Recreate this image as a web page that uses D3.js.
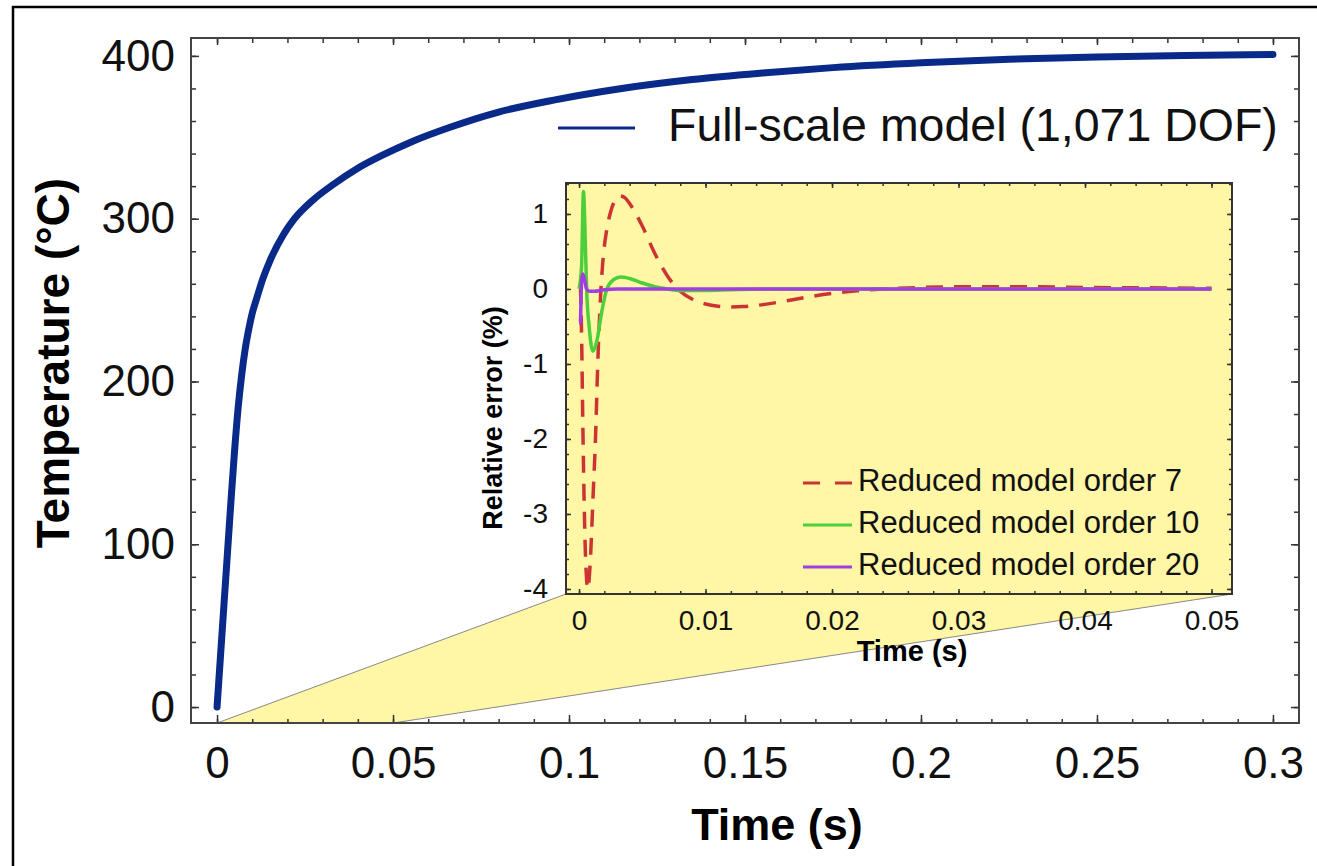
<!DOCTYPE html>
<html>
<head>
<meta charset="utf-8">
<script src="https://cdn.jsdelivr.net/npm/d3@7"></script>
<style>
  body { margin: 0; background: #fff; }
  svg { display: block; font-family: "Liberation Sans", Arial, Helvetica, sans-serif; }
</style>
</head>
<body>
<script>
// Curva del modelo completo (temperatura vs tiempo)
const fullTime = [0, 0.001, 0.002, 0.003, 0.004, 0.005, 0.006, 0.007, 0.008, 0.009, 0.01, 0.0114, 0.013, 0.015, 0.0188, 0.022, 0.027, 0.033, 0.04, 0.047, 0.055, 0.066, 0.08, 0.096, 0.115, 0.135, 0.155, 0.175, 0.2, 0.225, 0.25, 0.275, 0.3];
const fullTemp = [0, 32, 64, 96, 128, 158, 184, 204, 220, 232, 242, 252, 263, 274, 290, 300, 311, 321, 331, 339, 347, 356, 365.5, 373, 380, 385.5, 389.5, 392.8, 395.8, 398, 399.4, 400.3, 400.9];

// Error relativo de los modelos reducidos (%)
const err7Time = [0, 0.0001, 0.0002, 0.0003, 0.0004, 0.0005, 0.0007, 0.0009, 0.0011, 0.0013, 0.0015, 0.0017, 0.0019, 0.0022, 0.0025, 0.0028, 0.0032, 0.0036, 0.004, 0.0045, 0.005, 0.006, 0.007, 0.008, 0.009, 0.01, 0.011, 0.012, 0.013, 0.014, 0.016, 0.018, 0.02, 0.022, 0.024, 0.027, 0.03, 0.035, 0.04, 0.045, 0.05];
const err7Vals = [0, 0, -0.6, -1.8, -2.8, -3.5, -4.0, -3.6, -2.8, -2.0, -0.9, -0.1, 0.4, 0.8, 1.03, 1.17, 1.24, 1.22, 1.14, 1.0, 0.84, 0.47, 0.17, -0.03, -0.14, -0.2, -0.23, -0.24, -0.235, -0.22, -0.17, -0.11, -0.06, -0.025, 0, 0.02, 0.03, 0.03, 0.02, 0.015, 0.01];

const err10Time = [0, 0.0002, 0.00035, 0.0005, 0.0006, 0.0008, 0.0011, 0.0014, 0.0018, 0.0022, 0.0027, 0.0033, 0.004, 0.005, 0.006, 0.007, 0.008, 0.01, 0.012, 0.015, 0.05];
const err10Vals = [0, 0.3, 1.3, 0.6, 0, -0.5, -0.83, -0.7, -0.3, 0, 0.12, 0.16, 0.14, 0.08, 0.03, 0, -0.02, -0.02, -0.01, 0, 0];

const err20Time = [0, 0.0001, 0.0002, 0.0003, 0.0004, 0.0006, 0.0008, 0.0012, 0.002, 0.003, 0.05];
const err20Vals = [-0.45, -0.45, 0.1, 0.2, 0.15, 0, -0.03, -0.03, -0.01, 0, 0];

// Ticks
const mainXTicks = [0, 0.05, 0.1, 0.15, 0.2, 0.25, 0.3];
const mainYTicks = [0, 100, 200, 300, 400];
const insetXTicks = [0, 0.01, 0.02, 0.03, 0.04, 0.05];
const insetYTicks = [-4, -3, -2, -1, 0, 1];

const legendMain = "Full-scale model (1,071 DOF)";
const legendInset = ["Reduced model order 7", "Reduced model order 10", "Reduced model order 20"];

const width = 1317;
const height = 866;
const yellow = "#fff6a6";
const font = '"Liberation Sans", Arial, Helvetica, sans-serif';

const svg = d3.select("body").append("svg")
  .attr("width", width)
  .attr("height", height);

// marco exterior
svg.append("rect")
  .attr("x", 13).attr("y", 7)
  .attr("width", width + 20).attr("height", height + 20)
  .attr("fill", "white")
  .attr("stroke", "black")
  .attr("stroke-width", 2.5);

// ---------- grafico principal ----------
const M = {left: 191, right: 1299, top: 38, bottom: 723};
const x = d3.scaleLinear().domain([-0.0074, 0.3074]).range([M.left, M.right]);
const y = d3.scaleLinear().domain([-9.8, 411]).range([M.bottom, M.top]);

const fmt = d => String(+d.toFixed(3));

function ticksAxis(g, axis) {
  g.call(axis).call(s => s.select(".domain").remove());
  g.selectAll(".tick line").attr("stroke", "#333").attr("stroke-width", 1.5);
}

const mainMinorX = d3.range(0, 0.3001, 0.01);
const mainMinorY = d3.range(0, 401, 20);

// zona del zoom (amarilla)
const zoomPts = [
  [x(0), M.bottom],
  [566, 594],
  [1232, 594],
  [x(0.05), M.bottom]
];
svg.append("polygon")
  .attr("points", zoomPts.map(p => p.join(",")).join(" "))
  .attr("fill", yellow);
svg.append("line")
  .attr("x1", zoomPts[0][0]).attr("y1", zoomPts[0][1])
  .attr("x2", zoomPts[1][0]).attr("y2", zoomPts[1][1])
  .attr("stroke", "#888").attr("stroke-width", 1);
svg.append("line")
  .attr("x1", zoomPts[3][0]).attr("y1", zoomPts[3][1])
  .attr("x2", zoomPts[2][0]).attr("y2", zoomPts[2][1])
  .attr("stroke", "#888").attr("stroke-width", 1);

// ejes principales (ticks hacia adentro)
svg.append("g").attr("transform", `translate(0,${M.bottom})`)
  .call(g => ticksAxis(g, d3.axisBottom(x).tickValues(mainMinorX).tickFormat("").tickSize(-4)));
svg.append("g").attr("transform", `translate(0,${M.top})`)
  .call(g => ticksAxis(g, d3.axisTop(x).tickValues(mainMinorX).tickFormat("").tickSize(-5)));
svg.append("g").attr("transform", `translate(0,${M.top})`)
  .call(g => ticksAxis(g, d3.axisTop(x).tickValues(mainXTicks).tickFormat("").tickSize(-7)));
svg.append("g").attr("transform", `translate(${M.left},0)`)
  .call(g => ticksAxis(g, d3.axisLeft(y).tickValues(mainMinorY).tickFormat("").tickSize(-5)));
svg.append("g").attr("transform", `translate(${M.right},0)`)
  .call(g => ticksAxis(g, d3.axisRight(y).tickValues(mainMinorY).tickFormat("").tickSize(-5)));
svg.append("g").attr("transform", `translate(${M.right},0)`)
  .call(g => ticksAxis(g, d3.axisRight(y).tickValues(mainYTicks).tickFormat("").tickSize(-8)));

const xAxis = svg.append("g").attr("transform", `translate(0,${M.bottom})`)
  .call(g => ticksAxis(g, d3.axisBottom(x).tickValues(mainXTicks).tickFormat(fmt).tickSize(-8).tickPadding(24)));
const yAxis = svg.append("g").attr("transform", `translate(${M.left},0)`)
  .call(g => ticksAxis(g, d3.axisLeft(y).tickValues(mainYTicks).tickFormat(fmt).tickSize(-8).tickPadding(16)));
[xAxis, yAxis].forEach(a => a.selectAll("text")
  .attr("fill", "#111")
  .style("font-size", "44px")
  .style("font-family", font));

// marco del grafico
svg.append("rect")
  .attr("x", M.left).attr("y", M.top)
  .attr("width", M.right - M.left).attr("height", M.bottom - M.top)
  .attr("fill", "none")
  .attr("stroke", "#444")
  .attr("stroke-width", 2);

// curva completa
const fullData = fullTime.map((t, i) => ({t, v: fullTemp[i]}));
svg.append("path")
  .datum(fullData)
  .attr("fill", "none")
  .attr("stroke", "#0a2a8a")
  .attr("stroke-width", 7)
  .attr("stroke-linecap", "round")
  .attr("d", d3.line().x(d => x(d.t)).y(d => y(d.v)).curve(d3.curveMonotoneX));

// titulos principales
svg.append("text")
  .attr("x", 777).attr("y", 840)
  .attr("text-anchor", "middle")
  .style("font-size", "45px")
  .style("font-weight", "bold")
  .style("font-family", font)
  .text("Time (s)");
svg.append("text")
  .attr("transform", "translate(69,363) rotate(-90)")
  .attr("text-anchor", "middle")
  .style("font-size", "46px")
  .style("font-weight", "bold")
  .style("font-family", font)
  .text("Temperature (°C)");

// leyenda principal
svg.append("line")
  .attr("x1", 558).attr("x2", 635)
  .attr("y1", 128).attr("y2", 128)
  .attr("stroke", "#0a2a8a")
  .attr("stroke-width", 3);
svg.append("text")
  .attr("x", 668).attr("y", 141)
  .style("font-size", "46.5px")
  .style("font-family", font)
  .attr("fill", "#111")
  .text(legendMain);

// ---------- recuadro (inset) ----------
const I = {left: 566, right: 1232, top: 183, bottom: 594};
const xi = d3.scaleLinear().domain([-0.00103, 0.05162]).range([I.left, I.right]);
const yi = d3.scaleLinear().domain([-4.067, 1.413]).range([I.bottom, I.top]);

svg.append("rect")
  .attr("x", I.left).attr("y", I.top)
  .attr("width", I.right - I.left).attr("height", I.bottom - I.top)
  .attr("fill", yellow);

svg.append("clipPath").attr("id", "clip-inset")
  .append("rect")
  .attr("x", I.left).attr("y", I.top)
  .attr("width", I.right - I.left).attr("height", I.bottom - I.top);

const insetMinorX = d3.range(0, 0.0501, 0.002);
const insetMinorY = d3.range(-40, 15, 2).map(d => d / 10);

svg.append("g").attr("transform", `translate(0,${I.bottom})`)
  .call(g => ticksAxis(g, d3.axisBottom(xi).tickValues(insetMinorX).tickFormat("").tickSize(-3)));
svg.append("g").attr("transform", `translate(0,${I.top})`)
  .call(g => ticksAxis(g, d3.axisTop(xi).tickValues(insetMinorX).tickFormat("").tickSize(-3)));
svg.append("g").attr("transform", `translate(0,${I.top})`)
  .call(g => ticksAxis(g, d3.axisTop(xi).tickValues(insetXTicks).tickFormat("").tickSize(-5)));
svg.append("g").attr("transform", `translate(${I.left},0)`)
  .call(g => ticksAxis(g, d3.axisLeft(yi).tickValues(insetMinorY).tickFormat("").tickSize(-3)));
svg.append("g").attr("transform", `translate(${I.right},0)`)
  .call(g => ticksAxis(g, d3.axisRight(yi).tickValues(insetMinorY).tickFormat("").tickSize(-3)));
svg.append("g").attr("transform", `translate(${I.right},0)`)
  .call(g => ticksAxis(g, d3.axisRight(yi).tickValues(insetYTicks).tickFormat("").tickSize(-5)));

const xiAxis = svg.append("g").attr("transform", `translate(0,${I.bottom})`)
  .call(g => ticksAxis(g, d3.axisBottom(xi).tickValues(insetXTicks).tickFormat(fmt).tickSize(-5).tickPadding(16)));
const yiAxis = svg.append("g").attr("transform", `translate(${I.left},0)`)
  .call(g => ticksAxis(g, d3.axisLeft(yi).tickValues(insetYTicks).tickFormat(fmt).tickSize(-5).tickPadding(18)));
[xiAxis, yiAxis].forEach(a => a.selectAll("text")
  .attr("fill", "#111")
  .style("font-size", "28px")
  .style("font-family", font));

// series de error
const series = [
  {t: err7Time, v: err7Vals, color: "#cc3333", dash: "17,11", w: 3.5},
  {t: err10Time, v: err10Vals, color: "#4ccf3a", dash: null, w: 3.5},
  {t: err20Time, v: err20Vals, color: "#a23ee0", dash: null, w: 3.5}
];
const lineI = d3.line().x(d => xi(d.t)).y(d => yi(d.v)).curve(d3.curveMonotoneX);
const plotI = svg.append("g").attr("clip-path", "url(#clip-inset)");
series.forEach(s => {
  plotI.append("path")
    .datum(s.t.map((t, i) => ({t, v: s.v[i]})))
    .attr("fill", "none")
    .attr("stroke", s.color)
    .attr("stroke-width", s.w)
    .attr("stroke-dasharray", s.dash)
    .attr("d", lineI);
});

svg.append("rect")
  .attr("x", I.left).attr("y", I.top)
  .attr("width", I.right - I.left).attr("height", I.bottom - I.top)
  .attr("fill", "none")
  .attr("stroke", "#333")
  .attr("stroke-width", 2);

// titulos del inset
svg.append("text")
  .attr("x", 912).attr("y", 661)
  .attr("text-anchor", "middle")
  .style("font-size", "29px")
  .style("font-weight", "bold")
  .style("font-family", font)
  .text("Time (s)");
svg.append("text")
  .attr("transform", "translate(502,418) rotate(-90)")
  .attr("text-anchor", "middle")
  .style("font-size", "27px")
  .style("font-weight", "bold")
  .style("font-family", font)
  .text("Relative error (%)");

// leyenda del inset
const leg = svg.append("g");
legendInset.forEach((label, i) => {
  const yy = 483 + i * 42;
  leg.append("line")
    .attr("x1", 803).attr("x2", 852)
    .attr("y1", yy).attr("y2", yy)
    .attr("stroke", series[i].color)
    .attr("stroke-width", 3)
    .attr("stroke-dasharray", series[i].dash ? "17,15" : null);
  leg.append("text")
    .attr("x", 858).attr("y", yy + 8)
    .style("font-size", "31px")
    .style("font-family", font)
    .attr("fill", "#111")
    .text(label);
});
</script>
</body>
</html>
